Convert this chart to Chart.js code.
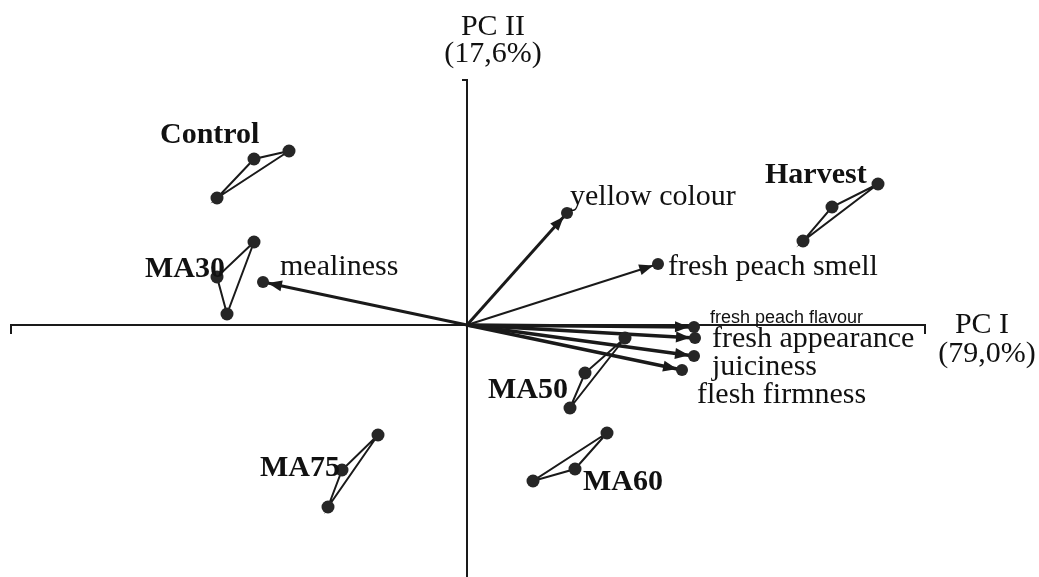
<!DOCTYPE html>
<html>
<head>
<meta charset="utf-8">
<script src="https://cdn.jsdelivr.net/npm/chart.js@4"></script>
<style>
  html,body{margin:0;padding:0;background:#fff;}
  #wrap{width:1039px;height:577px;position:relative;}
</style>
</head>
<body>
<div id="wrap"><canvas id="pca"></canvas></div>
<script>
/* ── PCA biplot: scores (storage groups) + loadings (sensory attributes) ── */

// sample scores, 3 replicates per group
const groupNames = ['Control','MA30','Harvest','MA50','MA60','MA75'];
const groupX = [
  [-1.78,-2.13,-2.50],
  [-2.13,-2.50,-2.40],
  [ 4.11, 3.65, 3.36],
  [ 1.58, 1.18, 1.03],
  [ 1.40, 1.08, 0.66],
  [-0.89,-1.25,-1.39]
];
const groupY = [
  [ 1.74, 1.66, 1.27],
  [ 0.83, 0.48, 0.11],
  [ 1.41, 1.18, 0.84],
  [-0.13,-0.48,-0.83],
  [-1.08,-1.44,-1.56],
  [-1.10,-1.45,-1.82]
];

// attribute loadings
const varNames = ['yellow colour','fresh peach smell','mealiness','fresh peach flavour','fresh appearance','juiciness','flesh firmness'];
const varX = [1.00, 1.91,-2.04, 2.27, 2.28, 2.27, 2.15];
const varY = [1.12, 0.61, 0.43,-0.02,-0.13,-0.31,-0.45];

// axis titles
const axisTitleX = ['PC I','(79,0%)'];
const axisTitleY = ['PC II','(17,6%)'];

// layout (data units) — not data
const AX = {xFrom:-4.56, xTo:4.58, yFrom:-2.52, yTo:2.45, tick:0.09};
const groupLbl = [[-3.07,1.82],[-3.22,0.48],[2.98,1.42],[0.21,-0.73],[1.16,-1.65],[-2.07,-1.51]];
const varLbl   = [[1.03,1.20],[2.01,0.50],[-1.87,0.50],[2.43,0.02],[2.45,-0.22],[2.45,-0.50],[2.30,-0.78]];
const varWidth = [3,2,3,3.5,3.5,3.5,3.5];

const SERIF = '"Liberation Serif","Times New Roman",serif';
const SANS  = '"Liberation Sans",Arial,sans-serif';
const INK   = '#1a1a1a';

const datasets = [];
groupNames.forEach((g,i)=>{
  const pts = groupX[i].map((x,k)=>({x, y:groupY[i][k]}));
  pts.push(pts[0]); // close triangle
  datasets.push({
    label:g, data:pts, showLine:true,
    borderColor:INK, borderWidth:2,
    pointRadius:[6.5,6.5,6.5,0], pointBackgroundColor:'#262626', pointBorderColor:'#262626', pointBorderWidth:0
  });
});
varNames.forEach((v,i)=>{
  datasets.push({
    label:v, data:[{x:0,y:0},{x:varX[i],y:varY[i]}], showLine:true,
    borderColor:INK, borderWidth:varWidth[i],
    pointRadius:[0,6], pointBackgroundColor:'#262626', pointBorderColor:'#262626', pointBorderWidth:0
  });
});

const overlay = {
  id:'overlay',
  beforeDatasetsDraw(chart){
    const {ctx, scales:{x, y}} = chart;
    const px=v=>x.getPixelForValue(v), py=v=>y.getPixelForValue(v);
    ctx.save();
    ctx.strokeStyle=INK; ctx.lineWidth=2; ctx.lineCap='butt';
    // horizontal axis with end ticks
    ctx.beginPath();
    ctx.moveTo(px(AX.xFrom), py(-AX.tick));
    ctx.lineTo(px(AX.xFrom), py(0));
    ctx.lineTo(px(AX.xTo), py(0));
    ctx.lineTo(px(AX.xTo), py(-AX.tick));
    ctx.stroke();
    // vertical axis with top tick
    ctx.beginPath();
    ctx.moveTo(px(-0.05), py(AX.yTo));
    ctx.lineTo(px(0), py(AX.yTo));
    ctx.lineTo(px(0), py(AX.yFrom));
    ctx.stroke();
    ctx.restore();
  },
  afterDatasetsDraw(chart){
    const {ctx, scales:{x, y}} = chart;
    const px=v=>x.getPixelForValue(v), py=v=>y.getPixelForValue(v);
    ctx.save();
    // arrow heads
    ctx.fillStyle=INK;
    varNames.forEach((v,i)=>{
      const x0=px(0), y0=py(0), x1=px(varX[i]), y1=py(varY[i]);
      const len=Math.hypot(x1-x0,y1-y0), ux=(x1-x0)/len, uy=(y1-y0)/len;
      const tx=x1-ux*5, ty=y1-uy*5, bx=tx-ux*14, by=ty-uy*14;
      ctx.beginPath();
      ctx.moveTo(tx,ty);
      ctx.lineTo(bx-uy*5.5, by+ux*5.5);
      ctx.lineTo(bx+uy*5.5, by-ux*5.5);
      ctx.closePath(); ctx.fill();
    });
    // labels
    ctx.fillStyle='#111'; ctx.textBaseline='alphabetic'; ctx.textAlign='left';
    ctx.font='bold 30px '+SERIF;
    groupNames.forEach((g,i)=>ctx.fillText(g, px(groupLbl[i][0]), py(groupLbl[i][1])));
    varNames.forEach((v,i)=>{
      ctx.font = v==='fresh peach flavour' ? '18px '+SANS : '30px '+SERIF;
      ctx.fillText(v, px(varLbl[i][0]), py(varLbl[i][1]));
    });
    ctx.font='30px '+SERIF; ctx.textAlign='center';
    ctx.fillText(axisTitleX[0], px(5.15), py(-0.08));
    ctx.fillText(axisTitleX[1], px(5.20), py(-0.37));
    ctx.fillText(axisTitleY[0], px(0.26), py(2.90));
    ctx.fillText(axisTitleY[1], px(0.26), py(2.63));
    ctx.restore();
  }
};

new Chart(document.getElementById('pca'),{
  type:'scatter',
  data:{datasets},
  options:{
    responsive:true, maintainAspectRatio:false, animation:false,
    layout:{padding:0, autoPadding:false},
    plugins:{legend:{display:false}, tooltip:{enabled:false}},
    scales:{
      x:{type:'linear', min:-4.67, max:5.72, display:false},
      y:{type:'linear', min:-2.52, max:3.25, display:false}
    }
  },
  plugins:[overlay]
});
</script>
</body>
</html>
